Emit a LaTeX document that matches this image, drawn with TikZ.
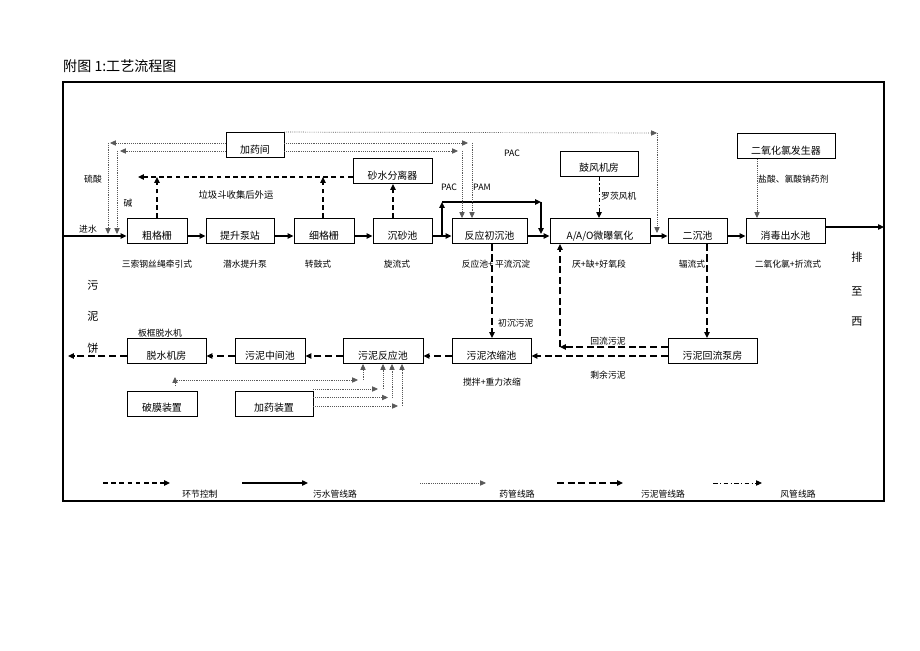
\documentclass[tikz,border=0pt]{standalone}
\usepackage{fontspec}
\setmainfont{Noto Sans CJK SC}
\usetikzlibrary{arrows.meta}

\begin{document}
\begin{tikzpicture}
  [x=0.03cm,y=-0.03cm,
   box/.style={draw,line width=0.8pt,inner xsep=0pt,inner ysep=0pt,
     text height=17.5pt,text depth=3.8pt,font=\fontsize{8.5}{10}\selectfont},
   lbl/.style={inner sep=0pt,font=\fontsize{7.5}{9}\selectfont},
   side/.style={inner sep=0pt,font=\fontsize{9.5}{11}\selectfont},
   flow/.style={line width=1.2pt,-{Triangle[length=5pt,width=4.5pt]}},
   sludge/.style={line width=1pt,dash pattern=on 6pt off 3pt,-{Triangle[length=5pt,width=4.5pt]}},
   waste/.style={line width=1pt,dash pattern=on 4pt off 3pt,-{Triangle[length=5pt,width=4.5pt]}},
   dose/.style={line width=.6pt,densely dotted,black!65,-{Triangle[length=5pt,width=4.5pt]}},
   air/.style={line width=.8pt,dash pattern=on 4pt off 2pt on 1pt off 2pt,-{Triangle[length=5pt,width=4.5pt]}}]

  \useasboundingbox (0,0) rectangle (920,651);

  \node[anchor=west,inner sep=0pt,font=\fontsize{12}{14}\selectfont] (title) at (63,66) {附图 1:工艺流程图};
  \draw[line width=2.1pt] (63,82) rectangle (884,501);

  % main row
  \node[box,minimum width=1.8cm] (cgs) at (157,231) {粗格栅};
  \node[box,minimum width=2.04cm] (tsbz) at (240,231) {提升泵站};
  \node[box,minimum width=1.8cm] (xgs) at (324,231) {细格栅};
  \node[box,minimum width=1.77cm] (css) at (402.5,231) {沉砂池};
  \node[box,minimum width=2.25cm] (fycc) at (489.5,231) {反应初沉池};
  \node[box,minimum width=3cm] (aao) at (600,231) {A/A/O微曝氧化};
  \node[box,minimum width=1.77cm] (ecc) at (697.5,231) {二沉池};
  \node[box,minimum width=2.37cm] (xdcs) at (785.5,231) {消毒出水池};

  % top boxes
  \node[box,minimum width=1.74cm] (jyj) at (255,145) {加药间};
  \node[box,minimum width=2.37cm] (ssfl) at (392.5,171) {砂水分离器};
  \node[box,minimum width=2.34cm] (gfjf) at (599,163.5) {鼓风机房};
  \node[box,minimum width=2.94cm] (eyhl) at (786,146) {二氧化氯发生器};

  % sludge row
  \node[box,minimum width=2.67cm] (hlbf) at (712.5,351) {污泥回流泵房};
  \node[box,minimum width=2.37cm] (nss) at (491.5,351) {污泥浓缩池};
  \node[box,minimum width=2.4cm] (fyc) at (383,351) {污泥反应池};
  \node[box,minimum width=2.1cm] (zjc) at (270,351) {污泥中间池};
  \node[box,minimum width=2.37cm] (tsjf) at (166.5,351) {脱水机房};
  \node[box,minimum width=2.1cm] (pmzz) at (162,403.5) {破膜装置};
  \node[box,minimum width=2.34cm] (jyzz) at (274,403.5) {加药装置};

  % labels
  \node[lbl] (l1) at (157,264) {三索钢丝绳牵引式};
  \node[lbl] (l2) at (245,264) {潜水提升泵};
  \node[lbl] (l3) at (318,264) {转鼓式};
  \node[lbl] (l4) at (397,264) {旋流式};
  \node[lbl] (l5) at (496,264) {反应池+\ 平流沉淀};
  \node[lbl] (l6) at (599,264) {厌+缺+好氧段};
  \node[lbl] (l7) at (692,264) {辐流式};
  \node[lbl] (l8) at (788,264) {二氧化氯+折流式};
  \node[lbl] (lin) at (88,229) {进水};
  \node[lbl] (lh) at (93,179) {硫酸};
  \node[lbl] (lj) at (128,203) {碱};
  \node[lbl] (lpac) at (512,153) {PAC};
  \node[lbl] (lpac2) at (449,187) {PAC};
  \node[lbl] (lpam) at (482,187) {PAM};
  \node[lbl,font=\fontsize{8}{10}\selectfont] (llj) at (236,195) {垃圾斗收集后外运};
  \node[lbl,anchor=west] (lfj) at (601,196) {罗茨风机};
  \node[lbl,anchor=west] (lyj) at (758,179) {盐酸、氯酸钠药剂};
  \node[lbl,anchor=west] (lcc) at (498,323) {初沉污泥};
  \node[lbl] (lhl) at (608,341) {回流污泥};
  \node[lbl] (lsy) at (608,375) {剩余污泥};
  \node[lbl] (lnc) at (492,382) {搅拌+重力浓缩};
  \node[lbl] (lbk) at (160,333) {板框脱水机};
  \node[side] (p1) at (857,257) {排};
  \node[side] (p2) at (857,291) {至};
  \node[side] (p3) at (857,322) {西};
  \node[side] (w1) at (93,285) {污};
  \node[side] (w2) at (93,316) {泥};
  \node[side] (w3) at (93,348) {饼};

  % coordinates
  \coordinate (fl) at (0,236);
  \coordinate (sl) at (0,356);
  \coordinate (in) at (63,236);
  \coordinate (out) at (884,227);
  \coordinate (b1) at (442,236);
  \coordinate (b2) at (442,202);
  \coordinate (b3) at (541,202);
  \coordinate (b4) at (541,234);
  \coordinate (wl) at (138,177);
  \coordinate (d1) at (657,133);
  \coordinate (d2) at (657,233);
  \coordinate (d3) at (468,143);
  \coordinate (d4) at (458,151);
  \coordinate (d5) at (110,143);
  \coordinate (d6) at (120,151);
  \coordinate (d7) at (108,234);
  \coordinate (d8) at (117,234);
  \coordinate (r1) at (560,347);
  \coordinate (cake) at (68,356);

  % sewage line
  \draw[flow] (in) -- (cgs.west |- fl);
  \draw[flow] (cgs.east |- fl) -- (tsbz.west |- fl);
  \draw[flow] (tsbz.east |- fl) -- (xgs.west |- fl);
  \draw[flow] (xgs.east |- fl) -- (css.west |- fl);
  \draw[flow] (css.east |- fl) -- (fycc.west |- fl);
  \draw[flow] (fycc.east |- fl) -- (aao.west |- fl);
  \draw[flow] (aao.east |- fl) -- (ecc.west |- fl);
  \draw[flow] (ecc.east |- fl) -- (xdcs.west |- fl);
  \draw[flow,line width=.9pt] (xdcs.east |- out) -- (out);
  \draw[flow] (b1) -- (b2);
  \draw[flow] (b2) -- (b3);
  \draw[flow] (b3) -- (b4);

  % dosing
  \draw[dose] (jyj.north east) -- (d1);
  \draw[dose] (d1) -- (d2);
  \draw[dose] (jyj.east |- d3) -- (d3);
  \draw[dose] (d3 -| 472,0) -- (fycc.north -| 472,0);
  \draw[dose] (jyj.east |- d4) -- (d4);
  \draw[dose] (d4 -| 462,0) -- (fycc.north -| 462,0);
  \draw[dose] (jyj.west |- d5) -- (d5);
  \draw[dose] (d7 |- d5) -- (d7);
  \draw[dose] (jyj.west |- d6) -- (d6);
  \draw[dose] (d8 |- d6) -- (d8);
  \draw[dose] (eyhl.south -| 757,0) -- (xdcs.north -| 757,0);

  % screenings
  \draw[waste] (cgs.north) -- (cgs.north |- wl);
  \draw[waste] (xgs.north -| 323,0) -- (wl -| 323,0);
  \draw[waste] (ssfl.west |- wl) -- (wl);
  \draw[waste] (css.north -| 393,0) -- (ssfl.south -| 393,0);

  % air
  \draw[air] (gfjf.south -| 599,0) -- (aao.north -| 599,0);

  % sludge
  \draw[sludge] (fycc.south -| 492,0) -- (nss.north -| 492,0);
  \draw[sludge] (ecc.south -| 707,0) -- (hlbf.north -| 707,0);
  \draw[sludge] (hlbf.west |- r1) -- (r1);
  \draw[sludge] (r1) -- (aao.south -| r1);
  \draw[sludge] (hlbf.west |- sl) -- (nss.east |- sl);
  \draw[sludge] (nss.west |- sl) -- (fyc.east |- sl);
  \draw[sludge] (fyc.west |- sl) -- (zjc.east |- sl);
  \draw[sludge] (zjc.west |- sl) -- (tsjf.east |- sl);
  \draw[sludge] (tsjf.west |- sl) -- (cake);

  % sludge dosing
  \coordinate (s1) at (175,380);
  \draw[dose] (175,386) -- (175,377);
  \draw[dose] (s1) -- (358,380);
  \draw[dose] (363,380) -- (fyc.south -| 363,0);
  \draw[dose] (jyzz.east |- 0,389) -- (378,389);
  \draw[dose] (383,389) -- (fyc.south -| 383,0);
  \draw[dose] (jyzz.east |- 0,397.5) -- (388,397.5);
  \draw[dose] (392,397.5) -- (fyc.south -| 392,0);
  \draw[dose] (jyzz.east |- 0,406) -- (398,406);
  \draw[dose] (402,406) -- (fyc.south -| 402,0);

  % legend
  \coordinate (g1a) at (103,483); \coordinate (g1b) at (170,483);
  \coordinate (g2a) at (242,483); \coordinate (g2b) at (308,483);
  \coordinate (g3a) at (420,483); \coordinate (g3b) at (486,483);
  \coordinate (g4a) at (557,483); \coordinate (g4b) at (623,483);
  \coordinate (g5a) at (713,483); \coordinate (g5b) at (762,483);
  \draw[waste] (g1a) -- (g1b);
  \draw[flow,line width=.9pt] (g2a) -- (g2b);
  \draw[dose] (g3a) -- (g3b);
  \draw[sludge] (g4a) -- (g4b);
  \draw[air] (g5a) -- (g5b);
  \node[lbl] (g1) at (200,494) {环节控制};
  \node[lbl] (g2) at (335,494) {污水管线路};
  \node[lbl] (g3) at (517,494) {药管线路};
  \node[lbl] (g4) at (663,494) {污泥管线路};
  \node[lbl] (g5) at (798,494) {风管线路};
\end{tikzpicture}
\end{document}
